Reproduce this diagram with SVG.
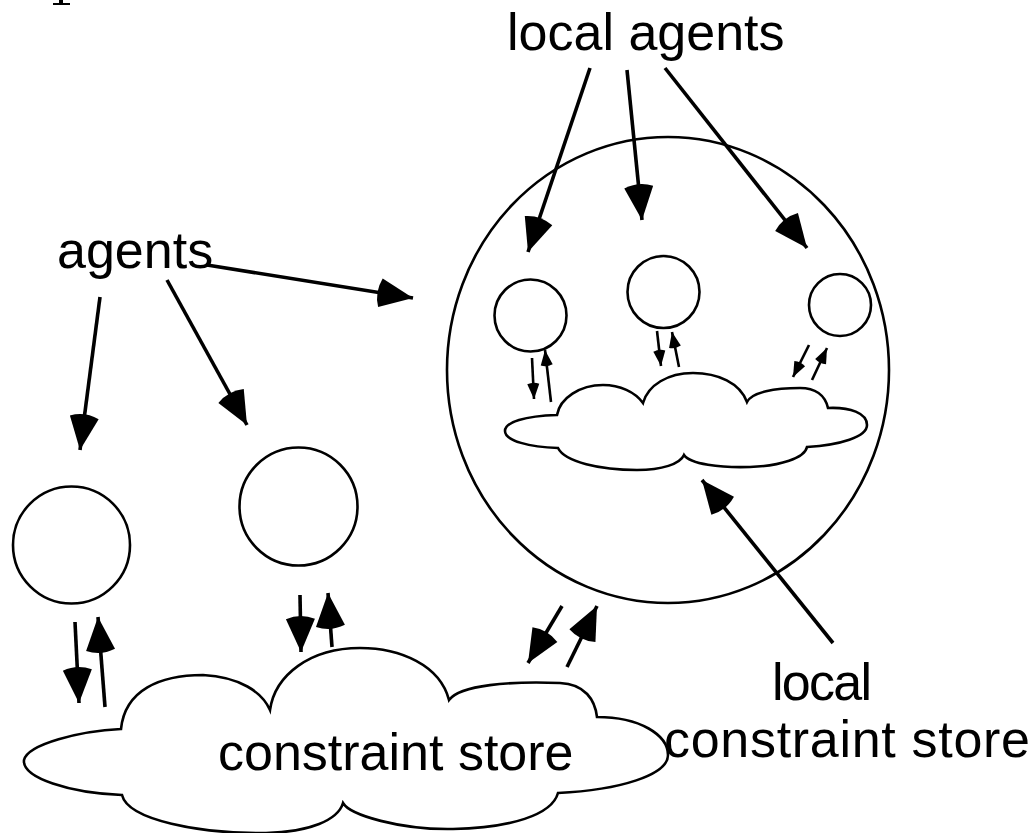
<svg xmlns="http://www.w3.org/2000/svg" width="1033" height="833" viewBox="0 0 1033 833">
<style>
.shape{fill:none;stroke:#000;stroke-width:2.6}
.big{fill:none;stroke:#000;stroke-width:3.6}
.small{fill:none;stroke:#000;stroke-width:2.6}
.lbl{font-family:"Liberation Sans",Arial,sans-serif;font-size:52px;fill:#000}
</style>
<defs>
<marker id="hb" markerUnits="userSpaceOnUse" orient="auto" markerWidth="50" markerHeight="40" viewBox="-40 -20 50 40" refX="0" refY="0">
<path d="M0,0 L-33,-14.5 Q-39,0 -33,14.5 Z" fill="#000"/>
</marker>
<marker id="hs" markerUnits="userSpaceOnUse" orient="auto" markerWidth="30" markerHeight="20" viewBox="-20 -10 30 20" refX="0" refY="0">
<path d="M0,0 L-15,-6 Q-17.5,0 -15,6 Z" fill="#000"/>
</marker>
</defs>
<rect width="1033" height="833" fill="#fff"/>
<path d="M59,0 H63 V3 H70 V5 H53 V3 H59 Z" fill="#000"/>

<g id="big-circle"><ellipse class="shape" cx="668" cy="370" rx="221" ry="233"/></g>
<g id="agent-left"><circle class="shape" cx="71.5" cy="545" r="58.5"/></g>
<g id="agent-mid"><circle class="shape" cx="298.5" cy="506.5" r="59"/></g>
<g id="local-agent-1"><circle class="shape" cx="530.5" cy="315.5" r="36"/></g>
<g id="local-agent-2"><circle class="shape" cx="663.5" cy="292" r="36"/></g>
<g id="local-agent-3"><circle class="shape" cx="840" cy="305" r="31"/></g>

<g id="constraint-store">
<path class="shape" d="M121,729 C80,731 28,744 24,760 C22,778 70,793 122,795 C128,820 200,834 266,833 C310,832 338,820 343,803 C350,815 400,830 453,829 C510,828 552,815 558,793 C620,790 668,775 668,755 C668,735 640,717 597,717 C595,700 585,684 560,683 C510,681 460,685 449,700 C440,665 400,648 360,648 C310,648 275,675 270,710 C262,692 240,677 203,675 C160,675 125,690 121,729 Z"/>
<text class="lbl" x="218" y="770">constraint store</text>
</g>

<g id="local-constraint-store">
<path class="shape" d="M557,415 C525,416 505,422 505,431 C505,441 530,447 558,448 C565,462 600,470 637,470 C662,470 680,464 684,455 C690,464 720,468 750,467 C780,466 805,458 807,447 C840,445 867,437 867,425 C867,413 850,407 828,408 C825,395 815,388 800,388 C775,388 752,392 747,402 C740,383 718,373 693,373 C668,373 648,385 643,403 C635,392 620,385 603,385 C580,385 560,398 557,415 Z"/>
</g>

<g id="labels">
<text class="lbl" x="507" y="50">local agents</text>
<text class="lbl" x="57" y="268">agents</text>
<text class="lbl" x="772" y="700" textLength="100">local</text>
<text class="lbl" x="664" y="757" textLength="366">constraint store</text>
</g>

<g id="connectors">
<line class="big" x1="590" y1="68" x2="528" y2="252" marker-end="url(#hb)"/>
<line class="big" x1="627" y1="70" x2="642" y2="220" marker-end="url(#hb)"/>
<line class="big" x1="665" y1="68" x2="807" y2="248" marker-end="url(#hb)"/>
<line class="big" x1="100" y1="297" x2="80" y2="450" marker-end="url(#hb)"/>
<line class="big" x1="167" y1="280" x2="247" y2="425" marker-end="url(#hb)"/>
<line class="big" x1="207" y1="265" x2="413" y2="298" marker-end="url(#hb)"/>
<line class="big" x1="833" y1="643" x2="702" y2="480" marker-end="url(#hb)"/>
<line class="big" x1="75" y1="622" x2="79" y2="703" marker-end="url(#hb)"/>
<line class="big" x1="105" y1="707" x2="98" y2="617" marker-end="url(#hb)"/>
<line class="big" x1="300" y1="595" x2="301" y2="652" marker-end="url(#hb)"/>
<line class="big" x1="332" y1="647" x2="328" y2="593" marker-end="url(#hb)"/>
<line class="big" x1="562" y1="606" x2="528" y2="663" marker-end="url(#hb)"/>
<line class="big" x1="567" y1="667" x2="597" y2="606" marker-end="url(#hb)"/>
<line class="small" x1="532" y1="358" x2="534" y2="399" marker-end="url(#hs)"/>
<line class="small" x1="551" y1="402" x2="545" y2="350" marker-end="url(#hs)"/>
<line class="small" x1="657" y1="331" x2="661" y2="366" marker-end="url(#hs)"/>
<line class="small" x1="679" y1="367" x2="672" y2="332" marker-end="url(#hs)"/>
<line class="small" x1="809" y1="345" x2="793" y2="377" marker-end="url(#hs)"/>
<line class="small" x1="812" y1="380" x2="827" y2="348" marker-end="url(#hs)"/>
</g>
</svg>
